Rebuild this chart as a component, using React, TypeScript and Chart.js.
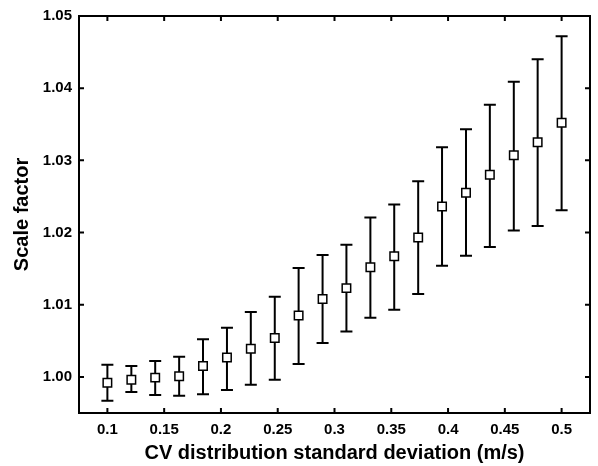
import React, { useEffect, useRef } from "react";
import { Chart, registerables } from "chart.js";

Chart.register(...registerables);

const xValues = [0.1, 0.1211, 0.1421, 0.1632, 0.1842, 0.2053, 0.2263, 0.2474, 0.2684, 0.2895, 0.3105, 0.3316, 0.3526, 0.3737, 0.3947, 0.4158, 0.4368, 0.4579, 0.4789, 0.5];
const meanValues = [0.9992, 0.9996, 0.9999, 1.0001, 1.0015, 1.0027, 1.0039, 1.0054, 1.0085, 1.0108, 1.0123, 1.0152, 1.0167, 1.0193, 1.0236, 1.0255, 1.028, 1.0307, 1.0325, 1.0352];
const upperValues = [1.0017, 1.0015, 1.0022, 1.0028, 1.0052, 1.0068, 1.009, 1.0111, 1.0151, 1.0169, 1.0183, 1.0221, 1.0239, 1.0271, 1.0318, 1.0343, 1.0377, 1.0409, 1.044, 1.0472];
const lowerValues = [0.9967, 0.9979, 0.9975, 0.9974, 0.9976, 0.9982, 0.9989, 0.9996, 1.0018, 1.0047, 1.0063, 1.0082, 1.0093, 1.0115, 1.0154, 1.0168, 1.018, 1.0203, 1.0209, 1.0231];

const xTicks = [0.1, 0.15, 0.2, 0.25, 0.3, 0.35, 0.4, 0.45, 0.5];
const xTickLabels = ["0.1", "0.15", "0.2", "0.25", "0.3", "0.35", "0.4", "0.45", "0.5"];
const yTicks = [1.0, 1.01, 1.02, 1.03, 1.04, 1.05];
const yTickLabels = ["1.00", "1.01", "1.02", "1.03", "1.04", "1.05"];

const xTitle = "CV distribution standard deviation (m/s)";
const yTitle = "Scale factor";

const FONT = "'Liberation Sans', Arial, Helvetica, sans-serif";

const errorBarPlugin = {
  id: "errorBars",
  beforeDatasetsDraw(chart: any) {
    const { ctx, scales } = chart;
    const x = scales.x;
    const y = scales.y;
    ctx.save();
    ctx.strokeStyle = "#000";
    ctx.lineWidth = 2;
    xValues.forEach((xv, i) => {
      const px = x.getPixelForValue(xv);
      const top = y.getPixelForValue(upperValues[i]);
      const bot = y.getPixelForValue(lowerValues[i]);
      ctx.beginPath();
      ctx.moveTo(px, top);
      ctx.lineTo(px, bot);
      ctx.moveTo(px - 6, top);
      ctx.lineTo(px + 6, top);
      ctx.moveTo(px - 6, bot);
      ctx.lineTo(px + 6, bot);
      ctx.stroke();
    });
    ctx.restore();
  },
};

const framePlugin = {
  id: "frame",
  afterDraw(chart: any) {
    const { ctx, chartArea, scales } = chart;
    const { left, right, top, bottom } = chartArea;
    ctx.save();
    ctx.strokeStyle = "#000";
    ctx.lineWidth = 2;
    ctx.strokeRect(left, top, right - left, bottom - top);
    ctx.beginPath();
    xTicks.forEach((v) => {
      const px = scales.x.getPixelForValue(v);
      ctx.moveTo(px, bottom);
      ctx.lineTo(px, bottom - 5);
      ctx.moveTo(px, top);
      ctx.lineTo(px, top + 5);
    });
    yTicks.forEach((v) => {
      const py = scales.y.getPixelForValue(v);
      ctx.moveTo(left, py);
      ctx.lineTo(left + 5, py);
      ctx.moveTo(right, py);
      ctx.lineTo(right - 5, py);
    });
    ctx.stroke();
    ctx.restore();
  },
};

export default function App() {
  const canvasRef = useRef<HTMLCanvasElement | null>(null);

  useEffect(() => {
    const canvas = canvasRef.current;
    if (!canvas) return;
    const chart = new Chart(canvas, {
      type: "scatter",
      data: {
        datasets: [
          {
            data: xValues.map((x, i) => ({ x, y: meanValues[i] })),
            pointStyle: "rect",
            pointRadius: 6,
            pointBorderWidth: 1.5,
            pointBorderColor: "#000",
            pointBackgroundColor: "#fff",
            showLine: false,
          },
        ],
      },
      options: {
        responsive: false,
        animation: false,
        devicePixelRatio: 1,
        layout: { padding: { left: 0, top: 12, right: 8, bottom: 0 } },
        plugins: {
          legend: { display: false },
          tooltip: { enabled: false },
        },
        scales: {
          x: {
            type: "linear",
            min: 0.075,
            max: 0.525,
            afterBuildTicks: (s: any) => {
              s.ticks = xTicks.map((v) => ({ value: v }));
            },
            afterFit: (s: any) => {
              s.height = 53;
            },
            grid: { display: false, drawTicks: false },
            border: { display: false },
            ticks: {
              color: "#000",
              padding: 8,
              maxRotation: 0,
              autoSkip: false,
              font: { family: FONT, size: 15, weight: "bold" },
              callback: (_v: any, i: number) => xTickLabels[i],
            },
            title: {
              display: true,
              text: xTitle,
              color: "#000",
              font: { family: FONT, size: 20, weight: "bold" },
              padding: { top: 0, bottom: 1 },
            },
          },
          y: {
            type: "linear",
            min: 0.995,
            max: 1.05,
            afterBuildTicks: (s: any) => {
              s.ticks = yTicks.map((v) => ({ value: v }));
            },
            afterFit: (s: any) => {
              s.width = 79;
            },
            grid: { display: false, drawTicks: false },
            border: { display: false },
            ticks: {
              color: "#000",
              padding: 7,
              autoSkip: false,
              font: { family: FONT, size: 15, weight: "bold" },
              callback: (_v: any, i: number) => yTickLabels[i],
            },
            title: {
              display: true,
              text: yTitle,
              color: "#000",
              font: { family: FONT, size: 20, weight: "bold" },
              padding: { top: 10, bottom: 0 },
            },
          },
        },
      },
      plugins: [errorBarPlugin, framePlugin],
    } as any);
    return () => chart.destroy();
  }, []);

  return (
    <div style={{ position: "absolute", left: 0, top: 0, width: 598, height: 466, background: "#fff" }}>
      <canvas ref={canvasRef} width={598} height={466} style={{ width: 598, height: 466, display: "block" }} />
    </div>
  );
}
